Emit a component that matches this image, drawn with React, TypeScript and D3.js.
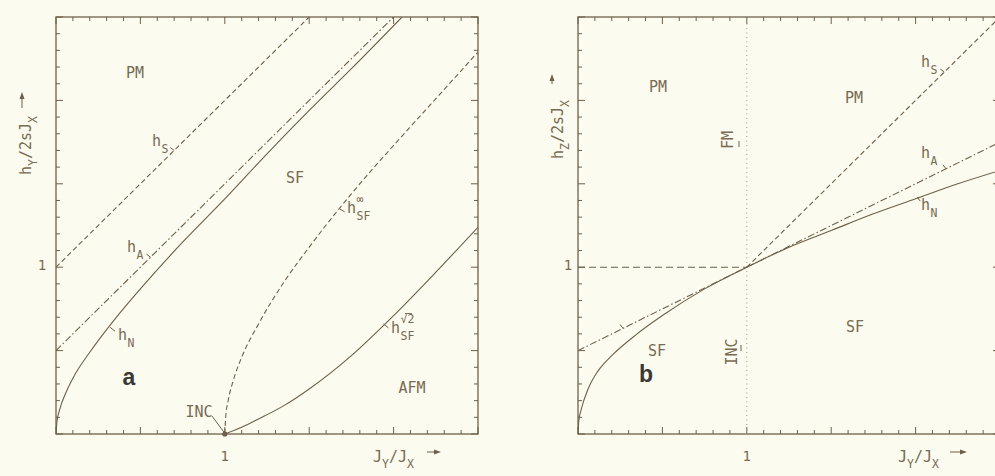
import React from 'react';
import * as d3 from 'd3';

type Pt = [number, number];

// ---- Panel a: field along Y, (J_Y/J_X, h_Y/2sJ_X) ----
const hS_a: Pt[] = [[0, 1], [1.5, 2.5]];
const hA_a: Pt[] = [[0, 0.5], [2, 2.5]];
const hN_a: Pt[] = [
  [0, 0], [0.005, 0.07], [0.02, 0.14], [0.06, 0.25], [0.12, 0.37], [0.2, 0.49],
  [0.35, 0.69], [0.5, 0.87], [0.75, 1.15], [1, 1.41], [1.25, 1.68], [1.5, 1.94],
  [1.75, 2.19], [2.05, 2.5],
];
const hSFinf_a: Pt[] = [
  [1, 0], [1.005, 0.1], [1.02, 0.2], [1.05, 0.32], [1.1, 0.46], [1.2, 0.66],
  [1.35, 0.91], [1.5, 1.12], [1.75, 1.44], [2, 1.73], [2.25, 2.01], [2.5, 2.29],
];
const hSFsqrt2_a: Pt[] = [
  [1, 0], [1.1, 0.04], [1.2, 0.09], [1.35, 0.17], [1.5, 0.27], [1.75, 0.47],
  [2, 0.71], [2.25, 0.97], [2.5, 1.24],
];
const incPoint_a: Pt = [1, 0];

// ---- Panel b: field along Z, (J_Y/J_X, h_Z/2sJ_X) ----
const hS_b: Pt[] = [[1, 1], [2.5, 2.5]];
const hA_b: Pt[] = [[0, 0.5], [2.5, 1.75]];
const hN_b: Pt[] = [
  [0, 0], [0.005, 0.08], [0.02, 0.15], [0.06, 0.27], [0.12, 0.38], [0.2, 0.47],
  [0.35, 0.6], [0.5, 0.71], [0.75, 0.87], [1, 1], [1.25, 1.12], [1.5, 1.22],
  [1.75, 1.32], [2, 1.41], [2.25, 1.5], [2.5, 1.58],
];
const fmEdge_b: Pt[] = [[0, 1], [1, 1]];
const incEdge_b: Pt[] = [[1, 0], [1, 2.5]];

// axis extent and labelled tick
const axisMax = 2.5;
const labelledTick = 1;
const tickLabel = '1';

const INK = '#6e604a';
const TXT = '#786a53';
const BG = '#fbfbef';
const MONO = "'DejaVu Sans Mono', monospace";
const FS = 15;
const FS_SUB = 11.5;

const W = 995;
const H = 476;

const minorTicks = d3.range(26).map((i) => ({ v: i / 10, major: i % 5 === 0 }));

type Scale = d3.ScaleLinear<number, number>;

function Frame({ x, y, id }: { x: Scale; y: Scale; id: string }) {
  const [x0, x1] = x.range();
  const [y0, y1] = y.range();
  const len = (m: boolean) => (m ? 7 : 4);
  return (
    <g stroke={INK} fill="none">
      <clipPath id={id}>
        <rect x={x0} y={y1} width={x1 - x0} height={y0 - y1} />
      </clipPath>
      <rect x={x0} y={y1} width={x1 - x0} height={y0 - y1} strokeWidth={1.3} />
      {minorTicks.map((t) => (
        <g key={t.v} strokeWidth={1}>
          <line x1={x(t.v)} x2={x(t.v)} y1={y0} y2={y0 - len(t.major)} />
          <line x1={x(t.v)} x2={x(t.v)} y1={y1} y2={y1 + len(t.major)} />
          <line x1={x0} x2={x0 + len(t.major)} y1={y(t.v)} y2={y(t.v)} />
          <line x1={x1} x2={x1 - len(t.major)} y1={y(t.v)} y2={y(t.v)} />
        </g>
      ))}
    </g>
  );
}

function Curve({ data, x, y, dash, curved = true, width = 1.1, color = INK }:
  { data: Pt[]; x: Scale; y: Scale; dash?: string; curved?: boolean; width?: number; color?: string }) {
  const gen = d3.line<Pt>().x((d) => x(d[0])).y((d) => y(d[1]));
  if (curved) gen.curve(d3.curveMonotoneX);
  return <path d={gen(data) || ''} fill="none" stroke={color} strokeWidth={width} strokeDasharray={dash} />;
}

function HSym({ x, y, sub, sup, overline }: { x: number; y: number; sub: string; sup?: string; overline?: boolean }) {
  return (
    <g fill={TXT} fontFamily={MONO}>
      <text x={x} y={y} fontSize={FS}>h</text>
      <text x={x + 9.5} y={y + 7} fontSize={FS_SUB}>{sub}</text>
      {sup && <text x={x + 9.5} y={y - 10} fontSize={FS_SUB}>{sup}</text>}
      {overline && <line x1={x + 14} x2={x + 21} y1={y - 19.5} y2={y - 19.5} stroke={TXT} strokeWidth={0.9} />}
    </g>
  );
}

function Leader({ p, x, y, dx, dy }: { p: Pt; x: Scale; y: Scale; dx: number; dy: number }) {
  const px = x(p[0]);
  const py = y(p[1]);
  return <line x1={px} y1={py} x2={px + dx} y2={py + dy} stroke={INK} strokeWidth={1} />;
}

function Word({ x, y, t, rotate }: { x: number; y: number; t: string; rotate?: boolean }) {
  return (
    <text
      x={rotate ? 0 : x}
      y={rotate ? 0 : y}
      transform={rotate ? `translate(${x},${y}) rotate(-90)` : undefined}
      textAnchor="middle"
      fontFamily={MONO}
      fontSize={FS}
      fill={TXT}
    >
      {t}
    </text>
  );
}

function XLabel({ x, y }: { x: number; y: number }) {
  return (
    <text x={x} y={y} fill={TXT} fontFamily={MONO} fontSize={FS}>
      J<tspan fontSize={FS_SUB} dy={6}>Y</tspan>
      <tspan fontSize={FS} dy={-6}>/J</tspan>
      <tspan fontSize={FS_SUB} dy={6}>X</tspan>
    </text>
  );
}

function YLabel({ x, y, sub }: { x: number; y: number; sub: string }) {
  return (
    <text transform={`translate(${x},${y}) rotate(-90)`} fill={TXT} fontFamily={MONO} fontSize={FS}>
      h<tspan fontSize={FS_SUB} dy={6}>{sub}</tspan>
      <tspan fontSize={FS} dy={-6}>/2sJ</tspan>
      <tspan fontSize={FS_SUB} dy={6}>X</tspan>
    </text>
  );
}

function ArrowRight({ x, y, len }: { x: number; y: number; len: number }) {
  return (
    <g fill={INK} stroke={INK}>
      <line x1={x} x2={x + len - 5} y1={y} y2={y} strokeWidth={1} />
      <path d={`M${x + len},${y} L${x + len - 7},${y - 2.5} L${x + len - 7},${y + 2.5} Z`} stroke="none" />
    </g>
  );
}

function ArrowUp({ x, y, len }: { x: number; y: number; len: number }) {
  return (
    <g fill={INK} stroke={INK}>
      <line x1={x} x2={x} y1={y} y2={y - len + 5} strokeWidth={1} />
      <path d={`M${x},${y - len} L${x - 2.5},${y - len + 7} L${x + 2.5},${y - len + 7} Z`} stroke="none" />
    </g>
  );
}

export default function App() {
  const xa = d3.scaleLinear().domain([0, axisMax]).range([56, 478]);
  const ya = d3.scaleLinear().domain([0, axisMax]).range([434, 17]);
  const xb = d3.scaleLinear().domain([0, axisMax]).range([578, 1000]);
  const yb = d3.scaleLinear().domain([0, axisMax]).range([434, 17]);

  return (
    <svg width={W} height={H} style={{ position: 'absolute', left: 0, top: 0 }}>
      <rect width={W} height={H} fill={BG} />

      {/* ---------- panel a ---------- */}
      <Frame x={xa} y={ya} id="clipA" />
      <g clipPath="url(#clipA)">
        <Curve data={hS_a} x={xa} y={ya} dash="5 3" curved={false} />
        <Curve data={hA_a} x={xa} y={ya} dash="7 2.5 1.5 2.5" curved={false} />
        <Curve data={hN_a} x={xa} y={ya} />
        <Curve data={hSFinf_a} x={xa} y={ya} dash="5 3" />
        <Curve data={hSFsqrt2_a} x={xa} y={ya} />
      </g>
      <circle cx={xa(incPoint_a[0])} cy={ya(incPoint_a[1])} r={2.6} fill={INK} />
      <line x1={212} y1={416} x2={xa(incPoint_a[0]) - 1} y2={ya(incPoint_a[1]) - 2} stroke={INK} strokeWidth={1} />

      <Leader p={[0.7, 1.7]} x={xa} y={ya} dx={-4} dy={-3} />
      <Leader p={[0.56, 1.06]} x={xa} y={ya} dx={-4} dy={-3} />
      <Leader p={[0.32, 0.64]} x={xa} y={ya} dx={5} dy={4} />
      <Leader p={[1.68, 1.35]} x={xa} y={ya} dx={5} dy={3} />
      <Leader p={[1.94, 0.66]} x={xa} y={ya} dx={5} dy={4} />

      <HSym x={152} y={146} sub="S" />
      <HSym x={127} y={252} sub="A" />
      <HSym x={118} y={340} sub="N" />
      <HSym x={347} y={213} sub="SF" sup="∞" />
      <HSym x={391} y={333} sub="SF" sup="√2" overline />

      <Word x={135} y={78} t="PM" />
      <Word x={295} y={183} t="SF" />
      <Word x={412} y={393} t="AFM" />
      <Word x={199} y={417} t="INC" />
      <text x={129} y={385} textAnchor="middle" fontFamily="'Liberation Sans', Arial, sans-serif" fontWeight="bold" fontSize={23} fill="#3b3833">a</text>

      <text x={xa(labelledTick)} y={461} textAnchor="middle" fontFamily={MONO} fontSize={14} fill={TXT}>{tickLabel}</text>
      <text x={42} y={ya(labelledTick) + 3} textAnchor="middle" fontFamily={MONO} fontSize={14} fill={TXT}>{tickLabel}</text>

      <XLabel x={373} y={462} />
      <ArrowRight x={427} y={452} len={14} />
      <YLabel x={31} y={175} sub="Y" />
      <ArrowUp x={22} y={108} len={16} />

      {/* ---------- panel b ---------- */}
      <Frame x={xb} y={yb} id="clipB" />
      <g clipPath="url(#clipB)">
        <Curve data={incEdge_b} x={xb} y={yb} dash="1 3.5" curved={false} width={1} color="#a89a80" />
        <Curve data={fmEdge_b} x={xb} y={yb} dash="7 4" curved={false} />
        <Curve data={hS_b} x={xb} y={yb} dash="5 3" curved={false} />
        <Curve data={hA_b} x={xb} y={yb} dash="7 2.5 1.5 2.5" curved={false} />
        <Curve data={hN_b} x={xb} y={yb} />
      </g>

      <Leader p={[2.17, 2.17]} x={xb} y={yb} dx={-4} dy={-3} />
      <Leader p={[2.18, 1.59]} x={xb} y={yb} dx={-3} dy={-4} />
      <Leader p={[2.01, 1.42]} x={xb} y={yb} dx={3} dy={4} />
      <Leader p={[0.267, 0.633]} x={xb} y={yb} dx={-3} dy={-4} />

      <HSym x={921} y={67} sub="S" />
      <HSym x={921} y={158} sub="A" />
      <HSym x={921} y={210} sub="N" />

      <Word x={658} y={92} t="PM" />
      <Word x={854} y={103} t="PM" />
      <Word x={855} y={332} t="SF" />
      <Word x={657} y={356} t="SF" />
      <Word x={733} y={140} t="FM" rotate />
      <Word x={737} y={352} t="INC" rotate />
      <line x1={739} x2={739} y1={141} y2={147} stroke={INK} strokeWidth={1} />
      <line x1={741} x2={741} y1={345} y2={351} stroke={INK} strokeWidth={1} />
      <text x={646} y={382} textAnchor="middle" fontFamily="'Liberation Sans', Arial, sans-serif" fontWeight="bold" fontSize={23} fill="#3b3833">b</text>

      <text x={xb(labelledTick)} y={461} textAnchor="middle" fontFamily={MONO} fontSize={14} fill={TXT}>{tickLabel}</text>
      <text x={568} y={yb(labelledTick) + 3} textAnchor="middle" fontFamily={MONO} fontSize={14} fill={TXT}>{tickLabel}</text>

      <XLabel x={898} y={462} />
      <ArrowRight x={950} y={452} len={17} />
      <YLabel x={563} y={159} sub="Z" />
      <ArrowUp x={552} y={84} len={10} />
    </svg>
  );
}
